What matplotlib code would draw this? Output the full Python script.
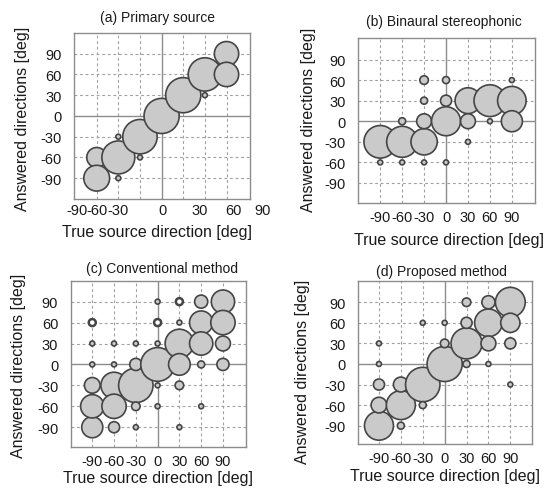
import matplotlib
matplotlib.use("Agg")
import matplotlib.pyplot as plt

plt.rcParams['font.family'] = ['Liberation Sans', 'DejaVu Sans']
plt.rcParams['axes.unicode_minus'] = False

# ---------------- data ----------------
# (a) Primary source
a_true = [-60, -60, -40, -40, -40, -20, -20, 0, 20, 40, 40, 60, 60]
a_ans = [-60, -90, -30, -60, -90, -30, -60, 0, 30, 60, 30, 90, 60]
a_cnt = [16, 27, 1, 44, 1, 48, 1, 50, 50, 45, 1, 24, 24]
a_grid_x = [-60, -40, -20, 0, 20, 40, 60]
a_xtick_labels = ["-90", "-60", "-30", "0", "30", "60", "90"]
a_xtick_pos = [-78, -60, -40, 1, 35, 66, 93]

# (b) Binaural stereophonic
b_true = [-90, -90, -60, -60, -60, -30, -30, -30, -30, -30, 0, 0, 0, 0,
          30, 30, 30, 60, 60, 90, 90, 90]
b_ans = [-30, -60, -30, 0, -60, -30, 0, 30, 60, -60, 0, 30, 60, -60,
         30, 0, -30, 30, 0, 30, 0, 60]
b_cnt = [43, 1, 39, 2, 1, 28, 9, 2, 3, 1, 34, 5, 2, 1,
         27, 9, 1, 41, 1, 33, 18, 1]

# (c) Conventional method
c_true = [-90, -90, -90, -90, -90, -60, -60, -60, -60, -60,
          -30, -30, -30, -30, -30, 0, 0, 0, 0, 0,
          30, 30, 30, 30, 30, 60, 60, 60, 60, 60, 90, 90, 90, 90]
c_ans = [-90, -60, -30, 0, 30, -30, -60, -90, 0, 30,
         -30, 0, -60, -90, 30, 0, 30, 90, -30, -60,
         30, 0, -30, -90, 60, 60, 30, 90, 0, -60, 90, 60, 30, 0]
c_cnt = [18, 22, 10, 1, 1, 28, 24, 5, 1, 1,
         48, 6, 3, 1, 1, 46, 1, 1, 1, 1,
         33, 19, 3, 1, 1, 22, 22, 7, 2, 1, 22, 24, 9, 6]
c_ring_true = [-90, 0, 30]
c_ring_ans = [60, 60, 90]
c_ring_cnt = [2, 2, 2]

# (d) Proposed method
d_true = [-90, -90, -90, -90, -90, -60, -60, -60, -30, -30, -30,
          0, 0, 0, 30, 30, 30, 30, 60, 60, 60, 60, 90, 90, 90, 90]
d_ans = [-90, -60, -30, 0, 30, -60, -30, -90, -30, -60, 60,
         0, 30, 60, 30, 60, 0, 90, 60, 90, 30, 0, 90, 60, 30, -30]
d_cnt = [34, 10, 5, 1, 1, 34, 9, 2, 48, 2, 1,
         50, 3, 1, 39, 5, 2, 3, 31, 7, 9, 1, 36, 15, 5, 1]

dirs = [-90, -60, -30, 0, 30, 60, 90]
dir_labels = ["-90", "-60", "-30", "0", "30", "60", "90"]

# ---------------- style ----------------
FILL = '#cacaca'
EDGE = '#454545'
GRIDC = '#a0a0a0'
FRAME = '#8c8c8c'
TXT = '#1a1a1a'
SCALE = 12.8  # marker area (pt^2) per response

fig = plt.figure(figsize=(5.48, 4.89), dpi=100)

panels = [
    dict(rect=[0.135, 0.592, 0.321, 0.339], xlim=(-81, 81.6), ylim=(-119.4, 120.3),
         x=a_true, y=a_ans, n=a_cnt, gridx=a_grid_x, title="(a) Primary source",
         title_xy=(0.474, 1.092), xl_xy=(0.47, -0.197), yl_xy=(-0.295, 0.484)),
    dict(rect=[0.653, 0.583, 0.3235, 0.3374], xlim=(-120.6, 121.8), ylim=(-119.1, 121.5),
         x=b_true, y=b_ans, n=b_cnt, gridx=dirs, title="(b) Binaural stereophonic",
         title_xy=(0.487, 1.103), xl_xy=(0.512, -0.22), yl_xy=(-0.28, 0.507)),
    dict(rect=[0.129, 0.0832, 0.3204, 0.3407], xlim=(-119.7, 122.1), ylim=(-118.8, 120),
         x=c_true, y=c_ans, n=c_cnt, gridx=dirs, title="(c) Conventional method",
         title_xy=(0.52, 1.076), xl_xy=(0.50, -0.18), yl_xy=(-0.30, 0.494)),
    dict(rect=[0.654, 0.09, 0.3164, 0.334], xlim=(-118.2, 119.4), ylim=(-116.7, 121.5),
         x=d_true, y=d_ans, n=d_cnt, gridx=dirs, title="(d) Proposed method",
         title_xy=(0.477, 1.061), xl_xy=(0.50, -0.19), yl_xy=(-0.32, 0.45)),
]

axes = []
for i, p in enumerate(panels):
    ax = fig.add_axes(p['rect'])
    axes.append(ax)
    ax.set_xlim(*p['xlim'])
    ax.set_ylim(*p['ylim'])
    # grid
    for gx in p['gridx']:
        if gx == 0:
            ax.axvline(gx, color=FRAME, lw=1.0, zorder=1)
        else:
            ax.axvline(gx, color=GRIDC, lw=0.8, ls=(0, (2.5, 2.5)), zorder=1)
    for gy in dirs:
        if gy == 0:
            ax.axhline(gy, color=FRAME, lw=1.0, zorder=1)
        else:
            ax.axhline(gy, color=GRIDC, lw=0.8, ls=(0, (2.5, 2.5)), zorder=1)
    ax.scatter(p['x'], p['y'], s=[SCALE * v for v in p['n']], facecolor=FILL,
               edgecolor=EDGE, linewidth=1.2, zorder=3, clip_on=False)
    for sp in ax.spines.values():
        sp.set_color(FRAME)
        sp.set_linewidth(1.0)
    ax.set_yticks(dirs)
    ax.set_yticklabels(dir_labels)
    ax.tick_params(axis='both', length=0, labelsize=10.5, labelcolor=TXT)
    ax.tick_params(axis='y', pad=9)
    ax.tick_params(axis='x', pad=5)
    if i == 0:
        ax.set_xticks([])
        for pos, lab in zip(a_xtick_pos, a_xtick_labels):
            ax.text(pos, -0.07, lab, transform=ax.get_xaxis_transform(),
                    ha='center', va='center', fontsize=10.5, color=TXT, clip_on=False)
    else:
        ax.set_xticks(dirs)
        ax.set_xticklabels(dir_labels)
    ax.set_title(p['title'], fontsize=10, color=TXT, y=p['title_xy'][1], va='center', pad=0)
    ax.title.set_x(p['title_xy'][0])
    ax.set_xlabel("True source direction [deg]", fontsize=11.5, color=TXT, va='center')
    ax.xaxis.set_label_coords(*p['xl_xy'])
    ax.set_ylabel("Answered directions [deg]", fontsize=11.5, color=TXT, va='center')
    ax.yaxis.set_label_coords(*p['yl_xy'])

# hollow ring markers in panel (c)
axes[2].scatter(c_ring_true, c_ring_ans, s=[SCALE * v for v in c_ring_cnt],
                facecolor='white', edgecolor=EDGE, linewidth=1.8, zorder=3)

fig.savefig("out.png", dpi=100)
